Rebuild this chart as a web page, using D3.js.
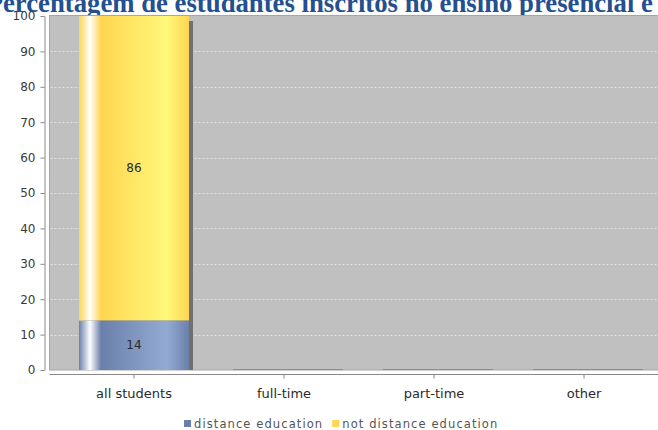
<!DOCTYPE html>
<html><head><meta charset="utf-8">
<script src="https://cdn.jsdelivr.net/npm/d3@7"></script>
<style>body{margin:0;background:#fff;} svg{display:block;}</style>
</head><body>
<script>
const categories = ["all students", "full-time", "part-time", "other"];
const seriesNames = ["distance education", "not distance education"];
const distanceEducation = [14, 0, 0, 0];
const notDistanceEducation = [86, 0, 0, 0];
const yTickValues = [0, 10, 20, 30, 40, 50, 60, 70, 80, 90, 100];
const titleText = "Percentagem de estudantes inscritos no ensino presencial e a distância";
const titleVisiblePart = "ercentagem de estudantes inscritos no ensino presencial e";

const W = 658, H = 430;
const plot = {left: 49.5, right: 672, top: 15.5, bottom: 370};
const svg = d3.select("body").append("svg").attr("width", W).attr("height", H);
const defs = svg.append("defs");

const x = d3.scaleBand().domain(categories).range([59, 659]).paddingInner(40/150).paddingOuter(20/150);
const y = d3.scaleLinear().domain([0, 100]).range([370, 16]);

const colors = [
  {c0: "#6a80ab", c1: "#93abd3"},
  {c0: "#ffd551", c1: "#fff87a"}
];
colors.forEach((c, i) => {
  const g = defs.append("linearGradient").attr("id", "grad" + i).attr("x1", 0).attr("x2", 1).attr("y1", 0).attr("y2", 0);
  [[0, c.c0], [0.1, "#ffffff"], [0.2, c.c0], [0.8, c.c1], [1, c.c0]].forEach(s =>
    g.append("stop").attr("offset", s[0]).attr("stop-color", s[1]));
});
defs.append("clipPath").attr("id", "plotclip").append("rect")
  .attr("x", plot.left).attr("y", plot.top).attr("width", plot.right - plot.left).attr("height", plot.bottom - plot.top);

// title
const tmp = svg.append("text").attr("font-family", "Liberation Serif").attr("font-weight", "bold").attr("font-size", 20).text(titleVisiblePart);
const wVis = tmp.node().getComputedTextLength();
const fs = 20 * 650 / wVis;
tmp.attr("font-size", fs).text("P");
const wP = tmp.node().getComputedTextLength();
tmp.remove();
svg.append("text").attr("x", 3 - wP).attr("y", 12)
  .attr("font-family", "Liberation Serif").attr("font-weight", "bold").attr("font-size", fs)
  .attr("fill", "#24508f").text(titleText);

// plot background
svg.append("rect").attr("x", plot.left).attr("y", plot.top).attr("width", plot.right - plot.left)
  .attr("height", plot.bottom - plot.top).attr("fill", "#c0c0c0").attr("stroke", "#a6a6a6").attr("stroke-width", 1);

// gridlines
svg.append("g").selectAll("line").data(yTickValues.filter(v => v > 0 && v < 100)).join("line")
  .attr("x1", plot.left + 1).attr("x2", plot.right).attr("y1", d => Math.round(y(d)) + 0.5).attr("y2", d => Math.round(y(d)) + 0.5)
  .attr("stroke", "#e4e4e4").attr("stroke-dasharray", "2,2");

// stacked data
const rows = categories.map((c, i) => ({cat: c, v: [distanceEducation[i], notDistanceEducation[i]]}));
const g = svg.append("g").attr("clip-path", "url(#plotclip)");
// shadows
g.selectAll("rect.shadow").data(rows).join("rect").attr("class", "shadow")
  .attr("x", d => x(d.cat) + 4).attr("width", x.bandwidth())
  .attr("y", d => Math.min(y(d3.sum(d.v)) + 5, 369))
  .attr("height", d => plot.bottom - Math.min(y(d3.sum(d.v)) + 5, 369))
  .attr("fill", d => d3.sum(d.v) > 0 ? "#707070" : "#8c8c8c");
// bars
rows.forEach(r => {
  let base = 0;
  r.v.forEach((v, si) => {
    if (v > 0) {
      g.append("rect").attr("x", x(r.cat)).attr("width", x.bandwidth())
        .attr("y", y(base + v)).attr("height", y(base) - y(base + v)).attr("fill", `url(#grad${si})`);
      svg.append("text").attr("x", x(r.cat) + x.bandwidth() / 2).attr("y", (y(base) + y(base + v)) / 2)
        .attr("dy", "0.35em").attr("text-anchor", "middle").attr("font-family", "DejaVu Sans").attr("font-size", 12)
        .attr("fill", "#2a2a2a").text(v);
    }
    base += v;
  });
});

// y axis
const ya = svg.append("g").attr("transform", "translate(44.5,0)")
  .call(d3.axisLeft(y).tickValues(yTickValues).tickSize(4).tickSizeOuter(0).tickPadding(5));
ya.select(".domain").attr("stroke", "#888");
ya.selectAll(".tick line").attr("stroke", "#888");
ya.selectAll("text").attr("font-family", "DejaVu Sans").attr("font-size", 12).attr("fill", "#3a3a3a");

// x axis
const xa = svg.append("g").attr("transform", "translate(0,374.5)")
  .call(d3.axisBottom(x).tickSize(4).tickSizeOuter(0).tickPadding(10));
xa.select(".domain").remove();
xa.append("line").attr("x1", plot.left).attr("x2", W).attr("stroke", "#888");
xa.selectAll(".tick line").attr("stroke", "#888");
xa.selectAll("text").attr("font-family", "DejaVu Sans").attr("font-size", 13).attr("fill", "#2a2a2a");

// legend
const leg = svg.append("g").attr("font-family", "DejaVu Sans").attr("font-size", 11.5).attr("fill", "#555");
let lx = 184;
seriesNames.forEach((n, i) => {
  leg.append("rect").attr("x", lx).attr("y", 420).attr("width", 7).attr("height", 7).attr("fill", colors[i].c0);
  const t = leg.append("text").attr("x", lx + 10).attr("y", 428).attr("letter-spacing", 1.1).text(n);
  lx += 10 + t.node().getComputedTextLength() + 9;
});
</script>
</body></html>
